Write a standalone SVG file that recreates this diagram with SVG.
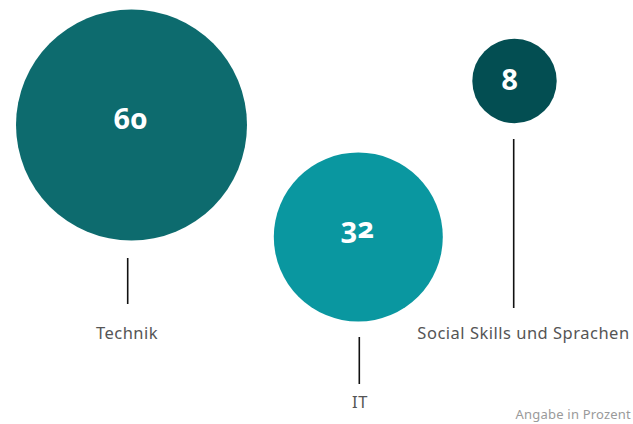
<svg xmlns="http://www.w3.org/2000/svg" width="633" height="424" viewBox="0 0 633 424">
<style>
.num{font-family:"Noto Sans",Lato,sans-serif;font-weight:bold;font-size:29px;fill:#ffffff;text-anchor:middle;font-variant-numeric:oldstyle-nums;font-feature-settings:"onum" 1}
.lbl{font-family:"Noto Sans",Lato,sans-serif;font-size:16.5px;letter-spacing:0.5px;fill:#555555;text-anchor:middle}
.note{font-family:"Noto Sans",Lato,sans-serif;font-size:13px;letter-spacing:0.2px;fill:#9a9a9a;text-anchor:end}
.conn{stroke:#111111;stroke-width:1.6;fill:none}
</style>
<rect width="633" height="424" fill="#ffffff"/>
<g id="connectors">
<line class="conn" x1="127.7" y1="258" x2="127.7" y2="304"/>
<line class="conn" x1="359.3" y1="337" x2="359.3" y2="384"/>
<line class="conn" x1="513.7" y1="139" x2="513.7" y2="308"/>
</g>
<g id="node-technik">
<circle cx="131.5" cy="125" r="115.5" fill="#0d6b6e"/>
<text class="num" x="130.5" y="129">60</text>
<text class="lbl" x="127" y="339">Technik</text>
</g>
<g id="node-it">
<circle cx="358.3" cy="237" r="84.5" fill="#0a97a0"/>
<text class="num" x="357.5" y="238">32</text>
<text class="lbl" x="360" y="408">IT</text>
</g>
<g id="node-social">
<circle cx="514.5" cy="81" r="42.2" fill="#034e52"/>
<text class="num" x="510" y="90">8</text>
<text class="lbl" x="523.5" y="339">Social Skills und Sprachen</text>
</g>
<text class="note" x="631" y="419">Angabe in Prozent</text>
</svg>
